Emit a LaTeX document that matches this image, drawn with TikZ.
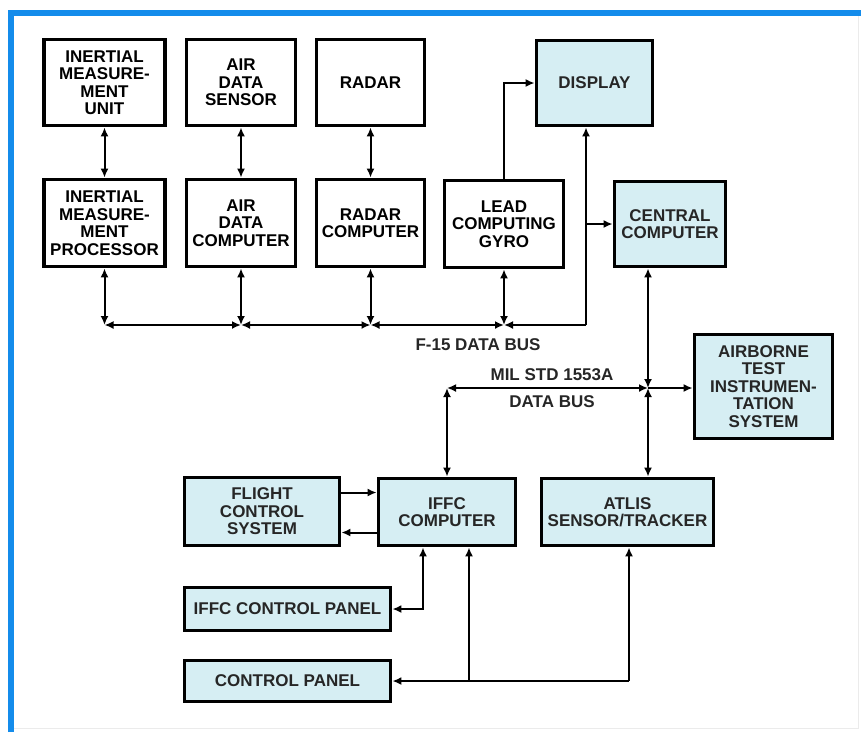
\documentclass[tikz,border=0pt]{standalone}
\usepackage{fontspec}
\setmainfont{Liberation Sans}
\usetikzlibrary{arrows.meta}
\definecolor{boxblue}{RGB}{214,238,243}
\definecolor{framebl}{RGB}{20,140,235}
\newcommand{\boxfont}{\fontsize{17}{17.5}\selectfont\bfseries}
\tikzstyle{unit} = [rectangle, draw=black, line width=3.8pt, fill=white, text centered, align=center, font=\boxfont, inner sep=2pt]
\tikzstyle{newunit} = [unit, fill=boxblue, text=black!85]
\tikzstyle{buslabel} = [font=\boxfont, text=black!85]
\tikzstyle{arrow} = [line width=2pt, ->, >={Latex[length=9pt,width=8pt]}]
\tikzstyle{dblarrow} = [arrow, <->]

\begin{document}
\begin{tikzpicture}[x=1pt, y=-1pt]
    \useasboundingbox (0,0) rectangle (861,732);
    % frame
    \draw [black!8, line width=1pt] (858,16) -- (858,728) -- (14,728);
    \draw [framebl, line width=6pt] (10.5,732) -- (10.5,13) -- (861,13);

    % top row: sensors
    \node (imu) [unit, minimum width=121pt, minimum height=86pt] at (104.5,82.5) {INERTIAL\\MEASURE-\\MENT\\UNIT};
    \node (ads) [unit, minimum width=109pt, minimum height=86pt] at (241,82.5) {AIR\\DATA\\SENSOR};
    \node (radar) [unit, minimum width=108pt, minimum height=86pt] at (370.5,82.5) {RADAR};
    \node (display) [newunit, minimum width=116pt, minimum height=85pt] at (594.5,83) {DISPLAY};

    % second row: processors
    \node (imp) [unit, minimum width=121pt, minimum height=87pt] at (104.5,223) {INERTIAL\\MEASURE-\\MENT\\PROCESSOR};
    \node (adc) [unit, minimum width=109pt, minimum height=87pt] at (241,223) {AIR\\DATA\\COMPUTER};
    \node (rc) [unit, minimum width=108pt, minimum height=87pt] at (370.5,223) {RADAR\\COMPUTER};
    \node (lcg) [unit, minimum width=119pt, minimum height=87pt] at (504,224) {LEAD\\COMPUTING\\GYRO};
    \node (cc) [newunit, minimum width=111pt, minimum height=85pt] at (670,224) {CENTRAL\\COMPUTER};

    \node (ati) [newunit, minimum width=138pt, minimum height=104pt] at (763.5,386.5) {AIRBORNE\\TEST\\INSTRUMEN-\\TATION\\SYSTEM};

    % lower part
    \node (fcs) [newunit, minimum width=155pt, minimum height=68pt] at (262,511.5) {FLIGHT\\CONTROL\\SYSTEM};
    \node (iffc) [newunit, minimum width=137pt, minimum height=67pt] at (447,512) {IFFC\\COMPUTER};
    \node (atlis) [newunit, minimum width=172pt, minimum height=67pt] at (627.5,512) {ATLIS\\SENSOR/TRACKER};
    \node (icp) [newunit, minimum width=206pt, minimum height=43pt] at (287.5,609) {IFFC CONTROL PANEL};
    \node (cp) [newunit, minimum width=206pt, minimum height=41pt] at (287.5,681) {CONTROL PANEL};

    % bus labels
    \node (f15lbl) [buslabel] at (478,345) {F-15 DATA BUS};
    \node (millbl) [buslabel] at (552,375) {MIL STD 1553A};
    \node (dblbl) [buslabel] at (552,402) {DATA BUS};

    % F-15 data bus
    \coordinate (j1) at (104.5,325);
    \coordinate (j2) at (241,325);
    \coordinate (j3) at (370.5,325);
    \coordinate (j4) at (504,325);
    \coordinate (c1) at (586,325);
    \draw [dblarrow] (imu) -- (imp);
    \draw [dblarrow] (ads) -- (adc);
    \draw [dblarrow] (radar) -- (rc);
    \draw [dblarrow] (imp) -- (j1);
    \draw [dblarrow] (adc) -- (j2);
    \draw [dblarrow] (rc) -- (j3);
    \draw [dblarrow] (lcg) -- (j4);
    \draw [dblarrow] (j1) -- (j2);
    \draw [dblarrow] (j2) -- (j3);
    \draw [dblarrow] (j3) -- (j4);
    \draw [arrow] (c1) -- (j4);
    \draw [arrow] (c1) -- (c1 |- display.south);
    \draw [arrow] (c1 |- cc.west) -- (cc.west);
    \draw [arrow] (lcg.north) |- (display.west);

    % MIL STD 1553A data bus
    \coordinate (c2) at (447,388);
    \coordinate (j5) at (648,388);
    \draw [dblarrow] (c2) -- (iffc);
    \draw [dblarrow] (c2) -- (j5);
    \draw [dblarrow] (j5) -- (j5 |- cc.south);
    \draw [dblarrow] (j5) -- (j5 |- atlis.north);
    \draw [arrow] (j5) -- (j5 -| ati.west);

    % IFFC links
    \draw [arrow] ([yshift=19pt]fcs.east) -- ([yshift=19pt]fcs.east -| iffc.west);
    \draw [arrow] ([yshift=-21pt]fcs.east -| iffc.west) -- ([yshift=-21pt]fcs.east);
    \draw [dblarrow] ([xshift=-24pt]iffc.south) |- (icp.east);
    \coordinate (c3) at ([xshift=22pt]iffc.south |- cp.east);
    \coordinate (c4) at ([xshift=1.5pt]atlis.south |- cp.east);
    \draw [arrow] (c4) -- (cp.east);
    \draw [arrow] (c3) -- (c3 |- iffc.south);
    \draw [arrow] (c4) -- (c4 |- atlis.south);
\end{tikzpicture}
\end{document}
